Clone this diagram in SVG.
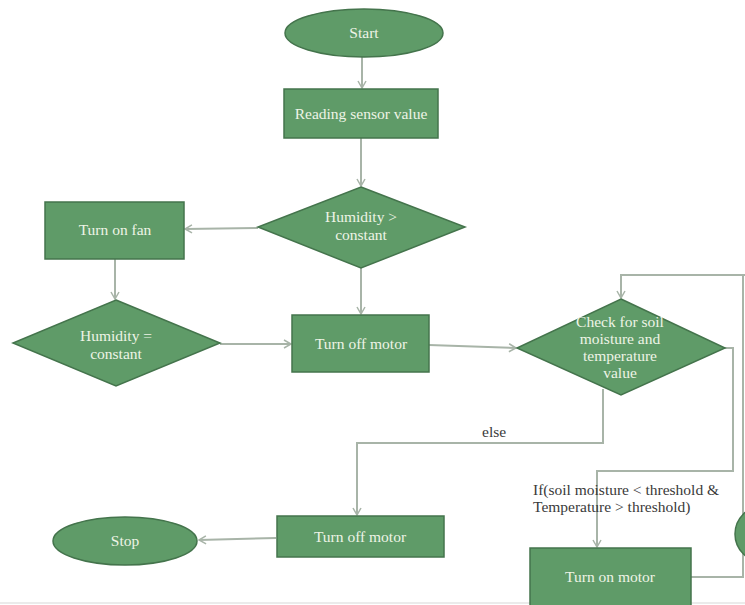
<svg xmlns="http://www.w3.org/2000/svg" width="745" height="605" viewBox="0 0 745 605">
<defs>
<style>
.node{fill:#5f9b68;stroke:#44744c;stroke-width:1.5}
.nt{font-family:'Liberation Serif','Times New Roman',serif;font-size:15.5px;fill:#eef4e6;text-anchor:middle}
.lbl{font-family:'Liberation Serif','Times New Roman',serif;font-size:15.5px;fill:#3a3a3a}
.conn{fill:none;stroke:#a8b4a8;stroke-width:2}
</style>
<marker id="ah" markerWidth="10" markerHeight="10" refX="8" refY="5" orient="auto" markerUnits="userSpaceOnUse">
<path d="M1,1 L8,5 L1,9" fill="none" stroke="#a8b4a8" stroke-width="1.5"/>
</marker>
</defs>
<rect width="745" height="605" fill="#ffffff"/>
<g id="connectors">
<line class="conn" x1="362" y1="57" x2="362" y2="88" marker-end="url(#ah)"/>
<line class="conn" x1="361" y1="138" x2="361" y2="186" marker-end="url(#ah)"/>
<line class="conn" x1="258" y1="228" x2="185" y2="229" marker-end="url(#ah)"/>
<line class="conn" x1="115" y1="259" x2="115" y2="299" marker-end="url(#ah)"/>
<line class="conn" x1="361" y1="268" x2="361" y2="314" marker-end="url(#ah)"/>
<line class="conn" x1="220" y1="344" x2="291" y2="344" marker-end="url(#ah)"/>
<line class="conn" x1="429" y1="345" x2="516" y2="348" marker-end="url(#ah)"/>
<polyline class="conn" points="745,275 621,275 621,298" marker-end="url(#ah)"/>
<polyline class="conn" points="603,389 603,443 357,443 357,515" marker-end="url(#ah)"/>
<line class="conn" x1="276" y1="538" x2="199" y2="540" marker-end="url(#ah)"/>
<polyline class="conn" points="725,348 733,348 733,471 597,471 597,547" marker-end="url(#ah)"/>
<polyline class="conn" points="691,577 743,577 743,275"/>
<line x1="0" y1="603" x2="745" y2="603" stroke="#e4e4e4" stroke-width="1.5"/>
</g>
<g id="start"><ellipse class="node" cx="364" cy="33" rx="79" ry="24"/><text class="nt" x="364" y="38">Start</text></g>
<g id="read"><rect class="node" x="284" y="89" width="154" height="49"/><text class="nt" x="361" y="119">Reading sensor value</text></g>
<g id="hum1"><polygon class="node" points="361,187 465,227 361,268 258,227"/><text class="nt" x="361" y="222">Humidity &gt;</text><text class="nt" x="361" y="240">constant</text></g>
<g id="fan"><rect class="node" x="45" y="202" width="139" height="57"/><text class="nt" x="115" y="235">Turn on fan</text></g>
<g id="hum2"><polygon class="node" points="116,300 220,343 116,386 13,343"/><text class="nt" x="116" y="341">Humidity =</text><text class="nt" x="116" y="359">constant</text></g>
<g id="off1"><rect class="node" x="292" y="315" width="137" height="57"/><text class="nt" x="361" y="349">Turn off motor</text></g>
<g id="check"><polygon class="node" points="621,299 725,348 621,395 517,348"/><text class="nt" x="620" y="327">Check for soil</text><text class="nt" x="620" y="344">moisture and</text><text class="nt" x="620" y="361">temperature</text><text class="nt" x="620" y="378">value</text></g>
<g id="off2"><rect class="node" x="277" y="516" width="167" height="41"/><text class="nt" x="360" y="542">Turn off motor</text></g>
<g id="stop"><ellipse class="node" cx="125" cy="541" rx="72" ry="24"/><text class="nt" x="125" y="546">Stop</text></g>
<g id="on"><rect class="node" x="530" y="548" width="161" height="62"/><text class="nt" x="610" y="582">Turn on motor</text></g>
<g id="edge-circle"><circle class="node" cx="763" cy="534" r="28"/></g>
<text class="lbl" x="482" y="437">else</text>
<text class="lbl" x="533" y="495">If(soil moisture &lt; threshold &amp;</text>
<text class="lbl" x="533" y="512">Temperature &gt; threshold)</text>
</svg>
